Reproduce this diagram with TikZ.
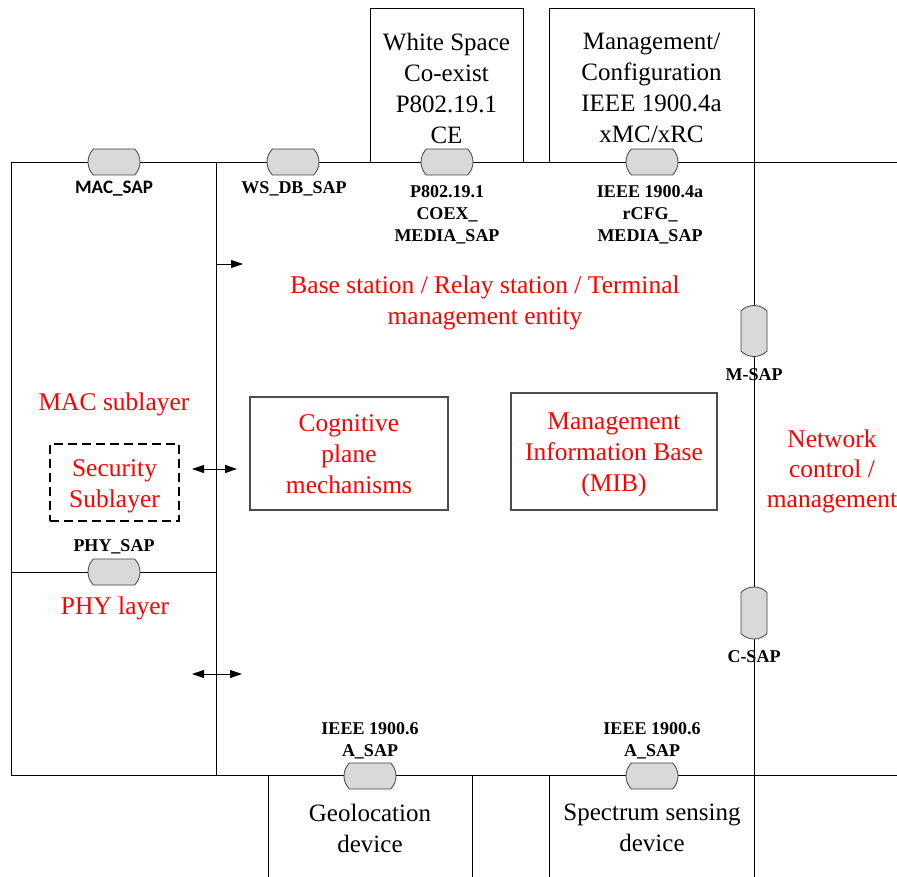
\documentclass[tikz,border=0pt]{standalone}
\usepackage{fontspec}
\setmainfont{Liberation Serif}
\newfontfamily\calfont{Carlito}
\usetikzlibrary{shapes.misc,arrows.meta}
\tikzset{
  line/.style={draw=black, line width=0.9pt},
  big/.style={font=\fontsize{25}{31}\selectfont, align=center, inner sep=0pt},
  redtxt/.style={font=\fontsize{25.5}{31}\selectfont, align=center, inner sep=0pt, text=red},
  lbl/.style={font=\fontsize{18}{22}\selectfont\bfseries, align=center, inner sep=0pt},
  sap/.style={shape=rounded rectangle, rounded rectangle arc length=90, draw=black!75, fill=black!15, line width=0.8pt, inner sep=0pt, minimum width=52pt, minimum height=26pt},
  vsap/.style={sap, rotate=90},
  topbox/.style={draw=black, line width=0.9pt, inner sep=0pt, minimum height=154pt},
  innerbox/.style={draw=black!70, line width=1.1pt, inner sep=0pt},
  secbox/.style={draw=black, line width=2.3pt, dash pattern=on 9pt off 5pt, inner sep=0pt, minimum width=129pt, minimum height=77pt},
  tip/.tip={Triangle[length=12pt,width=8pt]},
  arr/.style={line width=0.9pt, -tip},
  darr/.style={line width=0.9pt, tip-tip}
}
\begin{document}
\begin{tikzpicture}[x=1pt, y=-1pt]
\useasboundingbox (0,0) rectangle (897,877);

% top boxes
\node[topbox, minimum width=153pt] (ws) at (446.5,85) {};
\node[big] (wstxt) at (446.5,88) {White Space\\Co-exist\\P802.19.1\\CE};
\node[topbox, minimum width=205pt] (mgmt) at (651.5,85) {};
\node[big] (mgmttxt) at (651.5,88) {Management/\\Configuration\\IEEE 1900.4a\\xMC/xRC};

% bottom boxes
\coordinate (geoL) at (268,775);
\coordinate (geoR) at (472,775);
\coordinate (spL) at (549,775);
\coordinate (geoLb) at (268,877);
\coordinate (geoRb) at (472,877);
\coordinate (spLb) at (549,877);
\draw[line] (geoL) -- (geoLb);
\draw[line] (geoR) -- (geoRb);
\draw[line] (spL) -- (spLb);

% main frame lines
\coordinate (tl) at (11,162);
\coordinate (tr) at (897,162);
\coordinate (bl) at (11,775);
\coordinate (br) at (897,775);
\coordinate (mt) at (216,162);
\coordinate (mb) at (216,775);
\coordinate (phyL) at (11,572);
\coordinate (phyR) at (216,572);
\coordinate (rt) at (754,162);
\coordinate (rb) at (754,877);
\draw[line] (tl) -- (tr);
\draw[line] (bl) -- (br);
\draw[line] (tl) -- (bl);
\draw[line] (mt) -- (mb);
\draw[line] (phyL) -- (phyR);
\draw[line] (rt) -- (rb);

% SAPs
\node[sap] (macsap) at (114,162) {};
\node[sap] (wssap) at (293,162) {};
\node[sap] (coexsap) at (447,162) {};
\node[sap] (cfgsap) at (652,162) {};
\node[sap] (physap) at (114,572) {};
\node[sap] (geosap) at (370,776) {};
\node[sap] (spsap) at (652,776) {};
\node[vsap, minimum width=51pt] (msap) at (754,331) {};
\node[vsap, minimum width=52pt] (csap) at (754,613) {};

% SAP labels
\node[inner sep=0pt, font=\calfont\fontsize{19}{22}\selectfont\bfseries] (maclbl) at (114,189) {MAC\_SAP};
\node[lbl] (wslbl) at (294,189) {WS\_DB\_SAP};
\node[lbl] (coexlbl) at (447,215) {P802.19.1\\COEX\_\\MEDIA\_SAP};
\node[lbl] (cfglbl) at (650,215) {IEEE 1900.4a\\rCFG\_\\MEDIA\_SAP};
\node[lbl] (mlbl) at (754,375) {M-SAP};
\node[lbl] (clbl) at (754,657) {C-SAP};
\node[lbl] (phylbl) at (114,547) {PHY\_SAP};
\node[lbl] (geolbl) at (370,741) {IEEE 1900.6\\A\_SAP};
\node[lbl] (splbl) at (652,741) {IEEE 1900.6\\A\_SAP};

% red texts
\node[redtxt] (bs) at (485,303) {Base station / Relay station / Terminal\\management entity};
\node[redtxt] (mac) at (114,404) {MAC sublayer};
\node[redtxt] (phy) at (115,608) {PHY layer};
\node[redtxt, font=\fontsize{25.5}{30}\selectfont] (net) at (832,471) {Network\\control /\\management};

% inner boxes
\node[innerbox, minimum width=198pt, minimum height=113pt] (cog) at (349,453.5) {};
\node[redtxt] (cogtxt) at (349,454.5) {Cognitive\\plane\\mechanisms};
\node[innerbox, minimum width=206pt, minimum height=117pt] (mib) at (614,451.5) {};
\node[redtxt] (mibtxt) at (614,455) {Management\\Information Base\\(MIB)};
\node[secbox] (sec) at (114.5,482.5) {};
\node[redtxt] (sectxt) at (114.5,486) {Security\\Sublayer};

% device texts
\node[big] (geo) at (370,828) {Geolocation\\device};
\node[big] (sp) at (652,828) {Spectrum sensing\\device};

% arrows
\coordinate (a1s) at (216,264);
\coordinate (a1e) at (243,264);
\coordinate (a2s) at (192,469);
\coordinate (a2e) at (237,469);
\coordinate (a3s) at (192,674);
\coordinate (a3e) at (242,674);
\draw[arr] (a1s) -- (a1e);
\draw[darr] (a2s) -- (a2e);
\draw[darr] (a3s) -- (a3e);
\end{tikzpicture}
\end{document}
